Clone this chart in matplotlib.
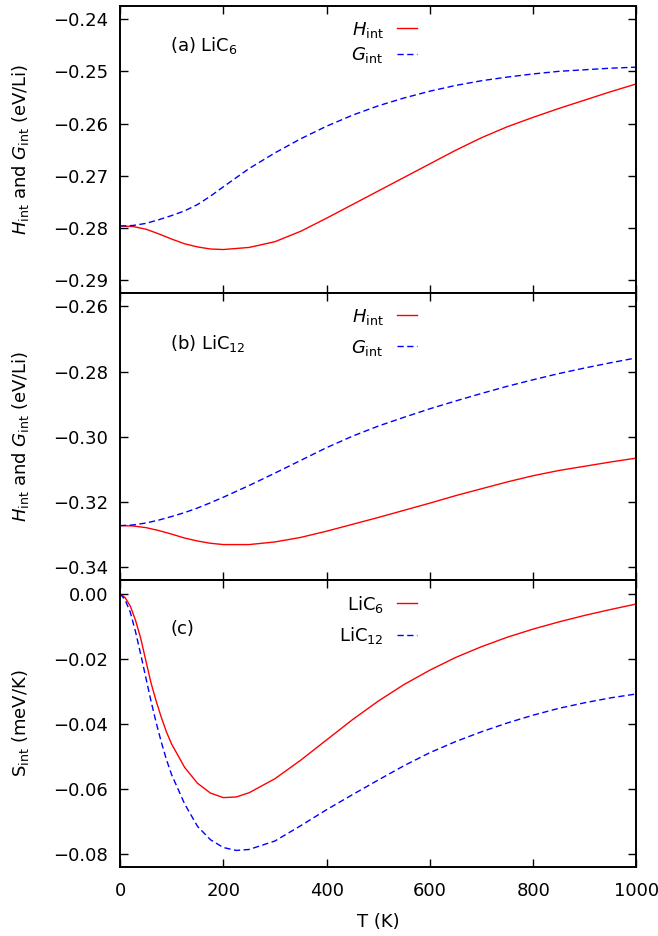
import matplotlib
matplotlib.use("Agg")
import matplotlib.pyplot as plt
from matplotlib.ticker import FuncFormatter, MultipleLocator

plt.rcParams['font.family'] = ['DejaVu Sans']
plt.rcParams['mathtext.fontset'] = 'dejavusans'
plt.rcParams['font.size'] = 13

# temperatures (K) for panels (a) and (b)
T_ab = [0, 25, 50, 75, 100, 125, 150, 175, 200, 250, 300, 350, 400, 450,
        500, 550, 600, 650, 700, 750, 800, 850, 900, 950, 1000]

# (a) LiC6, eV/Li
H_LiC6 = [-0.2796, -0.2797, -0.2802, -0.2811, -0.2821, -0.2830, -0.2836, -0.2840,
          -0.2841, -0.2837, -0.2826, -0.2806, -0.2781, -0.2755, -0.2729, -0.2703,
          -0.2677, -0.2651, -0.2627, -0.2606, -0.2588, -0.2571, -0.2555, -0.2539,
          -0.2524]
G_LiC6 = [-0.2796, -0.2795, -0.2791, -0.2784, -0.2776, -0.2767, -0.2755, -0.2739,
          -0.2721, -0.2686, -0.2656, -0.2629, -0.2605, -0.2584, -0.2566, -0.2551,
          -0.2538, -0.2527, -0.2518, -0.2511, -0.2505, -0.2500, -0.2497, -0.2494,
          -0.2492]

# (b) LiC12, eV/Li
H_LiC12 = [-0.3272, -0.3273, -0.3278, -0.3287, -0.3298, -0.3310, -0.3319, -0.3326,
           -0.3330, -0.3330, -0.3322, -0.3308, -0.3289, -0.3268, -0.3247, -0.3225,
           -0.3203, -0.3180, -0.3159, -0.3138, -0.3119, -0.3103, -0.3090, -0.3077,
           -0.3065]
G_LiC12 = [-0.3272, -0.3270, -0.3264, -0.3255, -0.3244, -0.3232, -0.3218, -0.3202,
           -0.3185, -0.3149, -0.3111, -0.3072, -0.3033, -0.2998, -0.2967, -0.2940,
           -0.2914, -0.2890, -0.2867, -0.2845, -0.2825, -0.2806, -0.2789, -0.2773,
           -0.2758]

# (c) entropy, meV/K
T_c = [0, 10, 20, 30, 40, 50, 60, 70, 80, 90, 100, 125, 150, 175, 200, 225, 250,
       300, 350, 400, 450, 500, 550, 600, 650, 700, 750, 800, 850, 900, 950, 1000]
S_LiC6 = [0.0000, -0.0013, -0.0039, -0.0082, -0.0137, -0.0206, -0.0274, -0.0330,
          -0.0380, -0.0425, -0.0462, -0.0533, -0.0582, -0.0612, -0.0626, -0.0624,
          -0.0611, -0.0568, -0.0511, -0.0449, -0.0387, -0.0330, -0.0279, -0.0235,
          -0.0196, -0.0163, -0.0134, -0.0109, -0.0087, -0.0067, -0.0049, -0.0032]
S_LiC12 = [0.0000, -0.0020, -0.0058, -0.0117, -0.0186, -0.0258, -0.0330, -0.0396,
           -0.0456, -0.0510, -0.0556, -0.0645, -0.0714, -0.0755, -0.0779, -0.0788,
           -0.0785, -0.0759, -0.0712, -0.0663, -0.0617, -0.0572, -0.0528, -0.0488,
           -0.0454, -0.0424, -0.0397, -0.0373, -0.0352, -0.0335, -0.0320, -0.0308]

red = '#ff0000'
blue = '#0000ff'
dash = (0, (4.5, 2.5))

fig, axes = plt.subplots(3, 1, sharex=True, figsize=(6.58, 9.36), dpi=100)
fig.subplots_adjust(left=0.1824, right=0.9673, bottom=0.074, top=0.9936, hspace=0)

ax1, ax2, ax3 = axes

ax1.plot(T_ab, H_LiC6, color=red, lw=1.0, label=r'$H_{\rm int}$')
ax1.plot(T_ab, G_LiC6, color=blue, lw=1.0, ls=dash, label=r'$G_{\rm int}$')
ax1.set_ylim(-0.2924, -0.2375)
ax1.yaxis.set_major_locator(MultipleLocator(0.01))

ax2.plot(T_ab, H_LiC12, color=red, lw=1.0, label=r'$H_{\rm int}$')
ax2.plot(T_ab, G_LiC12, color=blue, lw=1.0, ls=dash, label=r'$G_{\rm int}$')
ax2.set_ylim(-0.3438, -0.2559)
ax2.yaxis.set_major_locator(MultipleLocator(0.02))

ax3.plot(T_c, S_LiC6, color=red, lw=1.0, label=r'LiC$_6$')
ax3.plot(T_c, S_LiC12, color=blue, lw=1.0, ls=dash, label=r'LiC$_{12}$')
ax3.set_ylim(-0.0838, 0.0042)
ax3.yaxis.set_major_locator(MultipleLocator(0.02))

fmt = FuncFormatter(lambda v, p: f'{v:.2f}'.replace('-', '\u2212'))

ylabels = [r'$H_{\rm int}$ and $G_{\rm int}$ (eV/Li)',
           r'$H_{\rm int}$ and $G_{\rm int}$ (eV/Li)',
           r'S$_{\rm int}$ (meV/K)']
tags = [r'(a) LiC$_6$', r'(b) LiC$_{12}$', '(c)']
tag_y = [0.843, 0.806, 0.812]
spacing = [0.3, 0.6, 0.6]

for ax, yl, tag, ty, sp in zip(axes, ylabels, tags, tag_y, spacing):
    ax.set_xlim(0, 1000)
    ax.xaxis.set_major_locator(MultipleLocator(200))
    ax.yaxis.set_major_formatter(fmt)
    ax.tick_params(direction='in', length=6, width=1.0, top=True, right=True,
                   pad=8.5, labelsize=13)
    ax.tick_params(axis='x', pad=11)
    for s in ax.spines.values():
        s.set_linewidth(1.4)
    ax.set_ylabel(yl, fontsize=13)
    ax.yaxis.set_label_coords(-0.172, 0.5)
    ax.text(97, ty, tag, transform=ax.get_xaxis_transform(), fontsize=13,
            ha='left', va='baseline')
    ax.legend(loc='upper right', bbox_to_anchor=(0.575, 0.952), frameon=False,
              markerfirst=False, handlelength=1.1, handletextpad=0.75,
              borderpad=0, borderaxespad=0, labelspacing=sp, fontsize=13)

ax3.set_xlabel('T (K)', fontsize=13, labelpad=9)

fig.savefig('out.png', dpi=100)
